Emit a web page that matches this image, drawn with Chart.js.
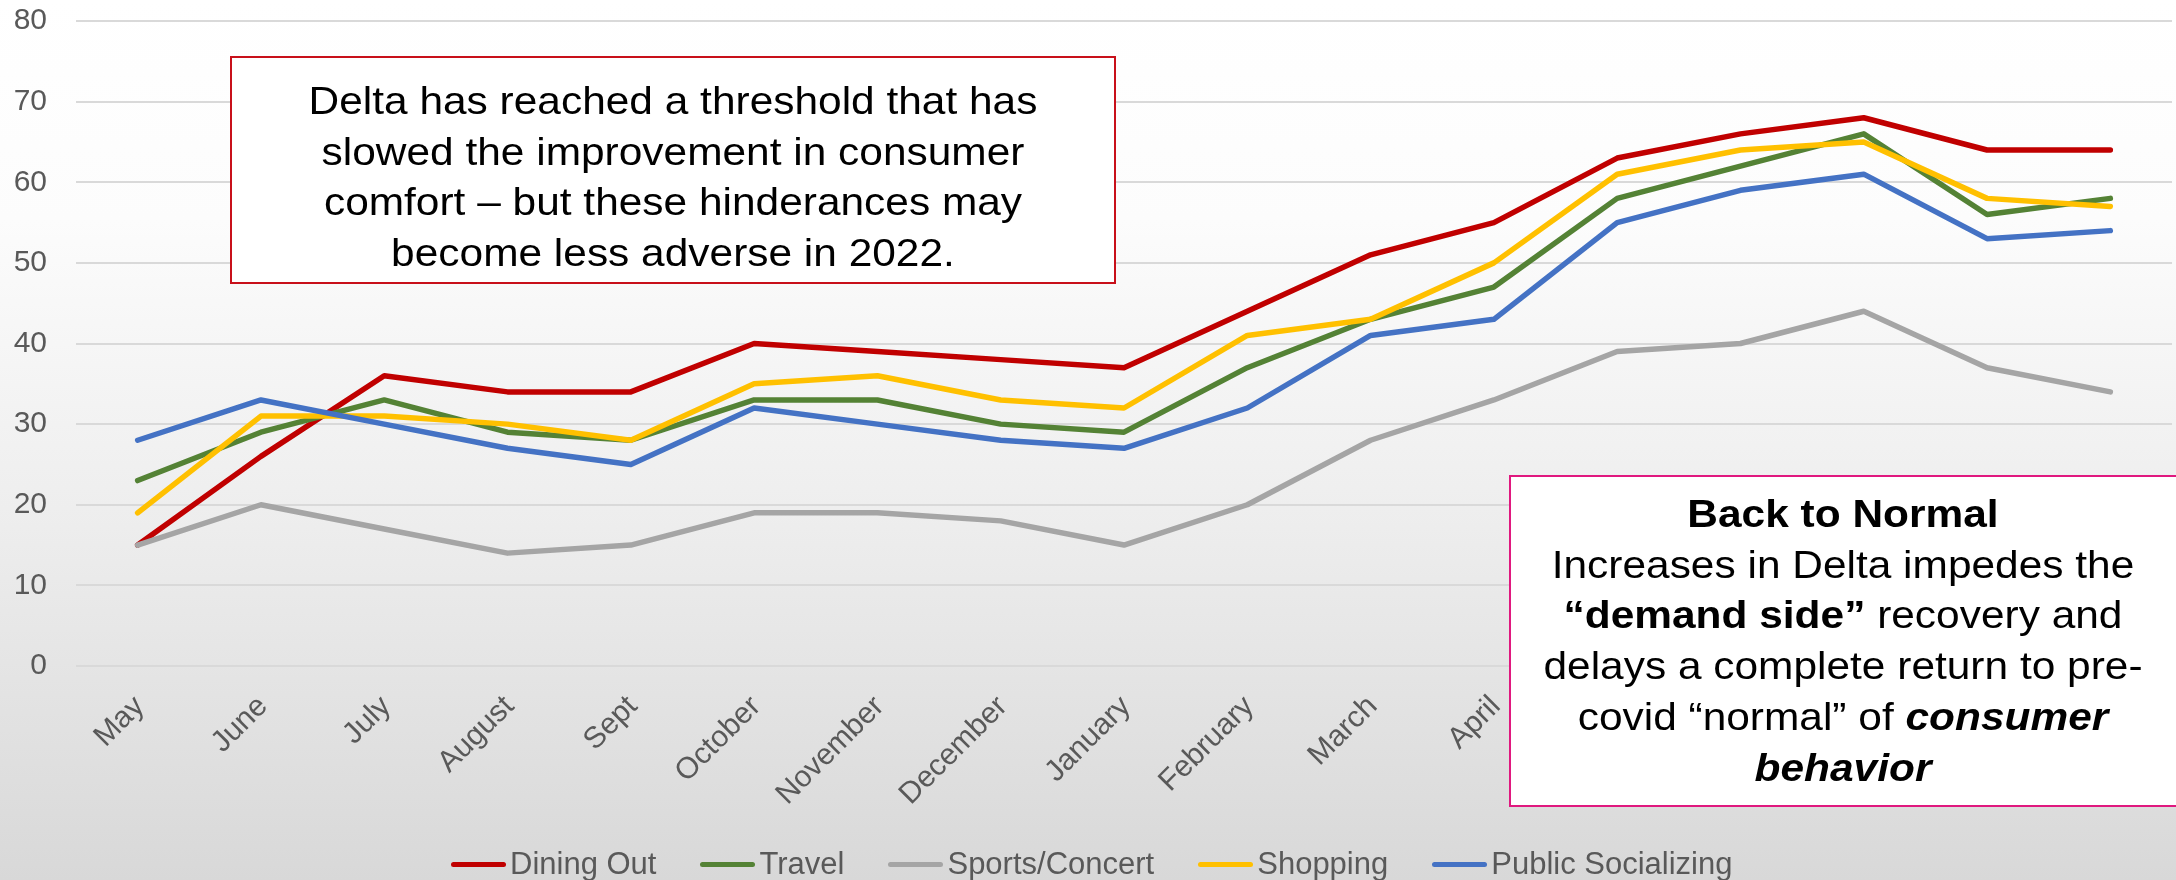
<!DOCTYPE html>
<html>
<head>
<meta charset="utf-8">
<title>Consumer comfort by activity</title>
<script src="https://cdn.jsdelivr.net/npm/chart.js@4/dist/chart.umd.min.js"></script>
<style>
  html, body { margin: 0; padding: 0; }
  #wrap {
    position: relative; width: 2176px; height: 880px; overflow: hidden;
    background: linear-gradient(to bottom, #ffffff 0%, #fcfcfc 25%, #ededed 60%, #d8d8d8 100%);
    font-family: "Liberation Sans", Arial, sans-serif;
  }
  #chart { position: absolute; left: 0; top: 0; }
  .note {
    position: absolute; box-sizing: border-box; background: #ffffff; color: #000000;
    text-align: center; white-space: nowrap; padding-top: 12px;
  }
  .note .txt {
    font-size: 39px; line-height: 50.7px;
    transform: scaleX(1.088); transform-origin: 50% 50%;
  }
  #note1 { left: 230px; top: 56px; width: 886px; height: 228px; border: 2px solid #C8101A; padding-top: 18px; }
  #note2 { left: 1509px; top: 475px; width: 676px; height: 332px; border: 2.5px solid #E0187F; padding-right: 8px; }
  #legend {
    position: absolute; left: 451px; top: 846px; height: 36px;
    display: flex; align-items: center; white-space: nowrap;
  }
  .item { display: flex; align-items: center; margin-right: 44px; }
  .swatch { width: 55px; height: 5px; border-radius: 3px; margin-right: 4px; }
  .label { font-size: 31px; line-height: 36px; color: #595959; }
</style>
</head>
<body>
<div id="wrap">
  <canvas id="chart" width="2176" height="880"></canvas>
  <div class="note" id="note1"><div class="txt">Delta has reached a threshold that has<br>slowed the improvement in consumer<br>comfort – but these hinderances may<br>become less adverse in 2022.</div></div>
  <div class="note" id="note2"><div class="txt"><b>Back to Normal</b><br>Increases in Delta impedes the<br><b>“demand side”</b> recovery and<br>delays a complete return to pre-<br>covid “normal” of <b><i>consumer</i></b><br><b><i>behavior</i></b></div></div>
  <div id="legend"></div>
</div>
<script>
// Survey months (May 2021 through Sept 2022)
const months = ['May', 'June', 'July', 'August', 'Sept', 'October', 'November', 'December',
                'January', 'February', 'March', 'April', 'May', 'June', 'July', 'August', 'Sept'];

// Share of consumers comfortable with each activity
const diningOut         = [15, 26, 36, 34, 34, 40, 39, 38, 37, 44, 51, 55, 63, 66, 68, 64, 64];
const travel            = [23, 29, 33, 29, 28, 33, 33, 30, 29, 37, 43, 47, 58, 62, 66, 56, 58];
const sportsConcert     = [15, 20, 17, 14, 15, 19, 19, 18, 15, 20, 28, 33, 39, 40, 44, 37, 34];
const shopping          = [19, 31, 31, 30, 28, 35, 36, 33, 32, 41, 43, 50, 61, 64, 65, 58, 57];
const publicSocializing = [28, 33, 30, 27, 25, 32, 30, 28, 27, 32, 41, 43, 55, 59, 61, 53, 54];

const seriesNames  = ['Dining Out', 'Travel', 'Sports/Concert', 'Shopping', 'Public Socializing'];
const seriesValues = [diningOut, travel, sportsConcert, shopping, publicSocializing];
const seriesColors = ['#C00000', '#548235', '#A5A5A5', '#FFC000', '#4472C4'];

// Value axis range
const yMin = 0, yMax = 80, yStep = 10;

Chart.defaults.font.family = "'Liberation Sans', Arial, sans-serif";

const datasets = seriesNames.map((name, i) => ({
  label: name,
  data: seriesValues[i],
  borderColor: seriesColors[i],
  backgroundColor: seriesColors[i],
  order: seriesNames.length - i   // later series sit on top
}));

new Chart(document.getElementById('chart'), {
  type: 'line',
  data: { labels: months, datasets },
  options: {
    responsive: false,
    devicePixelRatio: 1,
    animation: false,
    layout: { autoPadding: false, padding: { top: 21, right: 4, left: 0, bottom: 0 } },
    plugins: { legend: { display: false }, tooltip: { enabled: false } },
    elements: {
      point: { radius: 0, hoverRadius: 0 },
      line: { borderWidth: 5.5, tension: 0, borderCapStyle: 'round', borderJoinStyle: 'round' }
    },
    scales: {
      x: {
        offset: true,
        grid: { display: false },
        border: { display: false },
        ticks: {
          autoSkip: false, minRotation: 45, maxRotation: 45,
          color: '#595959', font: { size: 30 }, padding: 15, labelOffset: 2
        },
        afterFit(scale) { scale.height = 214; }
      },
      y: {
        min: yMin, max: yMax,
        ticks: { stepSize: yStep, color: '#595959', font: { size: 30 }, padding: 29 },
        grid: { color: '#d9d9d9', lineWidth: 2, drawTicks: false },
        border: { display: false },
        afterFit(scale) {
          scale.width = 76;
          scale.paddingTop = 0;
          scale.paddingBottom = 0;
        }
      }
    }
  }
});

// Legend row: line swatch followed by the series name
const legend = document.getElementById('legend');
seriesNames.forEach((name, i) => {
  const item = document.createElement('div');
  item.className = 'item';
  const sw = document.createElement('div');
  sw.className = 'swatch';
  sw.style.background = seriesColors[i];
  const lb = document.createElement('span');
  lb.className = 'label';
  lb.textContent = name;
  item.appendChild(sw);
  item.appendChild(lb);
  legend.appendChild(item);
});
</script>
</body>
</html>
